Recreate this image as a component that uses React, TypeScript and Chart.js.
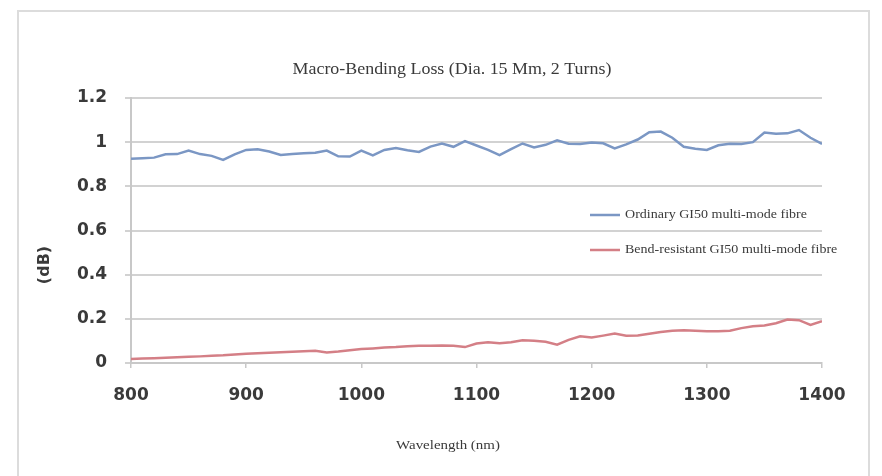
import React, { useEffect, useRef } from "react";
import { Chart, registerables } from "chart.js";

Chart.register(...registerables);

const chartTitle = "Macro-Bending Loss (Dia. 15 Mm, 2 Turns)";
const xAxisTitle = "Wavelength (nm)";
const yAxisTitle = "(dB)";
const seriesNames = [
  "Ordinary GI50 multi-mode fibre",
  "Bend-resistant GI50 multi-mode fibre",
];

const wavelengths = [
  800, 810, 820, 830, 840, 850, 860, 870, 880, 890,
  900, 910, 920, 930, 940, 950, 960, 970, 980, 990,
  1000, 1010, 1020, 1030, 1040, 1050, 1060, 1070, 1080, 1090,
  1100, 1110, 1120, 1130, 1140, 1150, 1160, 1170, 1180, 1190,
  1200, 1210, 1220, 1230, 1240, 1250, 1260, 1270, 1280, 1290,
  1300, 1310, 1320, 1330, 1340, 1350, 1360, 1370, 1380, 1390,
  1400,
];

const ordinaryLoss = [
  0.925, 0.927, 0.930, 0.945, 0.946, 0.962, 0.946, 0.938, 0.920, 0.945,
  0.965, 0.968, 0.958, 0.942, 0.946, 0.950, 0.952, 0.962, 0.936, 0.935,
  0.962, 0.940, 0.965, 0.974, 0.963, 0.956, 0.980, 0.994, 0.979, 1.005,
  0.985, 0.965, 0.941, 0.968, 0.994, 0.976, 0.988, 1.008, 0.993, 0.992,
  0.998, 0.995, 0.972, 0.990, 1.012, 1.045, 1.048, 1.020, 0.979, 0.970,
  0.965, 0.986, 0.993, 0.992, 1.000, 1.044, 1.038, 1.040, 1.055, 1.020,
  0.992,
];

const bendResistantLoss = [
  0.018, 0.020, 0.022, 0.024, 0.026, 0.028, 0.030, 0.033, 0.035, 0.039,
  0.042, 0.044, 0.046, 0.049, 0.051, 0.053, 0.055, 0.048, 0.052, 0.058,
  0.063, 0.066, 0.070, 0.072, 0.076, 0.078, 0.078, 0.079, 0.078, 0.072,
  0.088, 0.094, 0.090, 0.094, 0.103, 0.101, 0.096, 0.083, 0.105, 0.121,
  0.116, 0.124, 0.133, 0.123, 0.125, 0.132, 0.140, 0.146, 0.148, 0.146,
  0.144, 0.144, 0.146, 0.158, 0.166, 0.170, 0.180, 0.197, 0.194, 0.172,
  0.189,
];

const xMin = 800;
const xMax = 1400;
const xStep = 100;
const yMin = 0;
const yMax = 1.2;
const yStep = 0.2;

const BLUE = "#7b97c4";
const RED = "#d47f86";
const TEXT = "#3a3a3a";
const SERIF = "'Liberation Serif', 'DejaVu Serif', serif";
const SANS = "'DejaVu Sans', sans-serif";

function stretchedText(ctx: any, text: string, x: number, y: number, sx: number, align: string) {
  ctx.save();
  ctx.translate(x, y);
  ctx.scale(sx, 1);
  ctx.textAlign = align;
  ctx.fillText(text, 0, 0);
  ctx.restore();
}

const decorPlugin = {
  id: "decor",
  beforeDraw(chart: any) {
    const { ctx, width, height } = chart;
    ctx.save();
    ctx.fillStyle = "#ffffff";
    ctx.fillRect(0, 0, width, height);
    ctx.strokeStyle = "#dcdcdc";
    ctx.lineWidth = 2;
    ctx.strokeRect(18, 11, 851, height + 20);
    ctx.restore();
  },
  afterDraw(chart: any) {
    const { ctx, chartArea } = chart;
    ctx.save();
    ctx.fillStyle = TEXT;
    ctx.textBaseline = "middle";
    // title
    ctx.font = `16px ${SERIF}`;
    stretchedText(ctx, chartTitle, 452, chartArea.top - 28, 1.12, "center");
    // x axis title
    ctx.font = `13px ${SERIF}`;
    stretchedText(ctx, xAxisTitle, 448, chartArea.bottom + 83, 1.15, "center");
    // y axis title
    ctx.save();
    ctx.translate(45, 265);
    ctx.rotate(-Math.PI / 2);
    ctx.textAlign = "center";
    ctx.font = `bold 16px ${SANS}`;
    ctx.fillText(yAxisTitle, 0, 0);
    ctx.restore();
    // legend (Excel-style: left aligned entries)
    const sx = 1.22;
    ctx.font = `11.5px ${SERIF}`;
    const lineStart = 590;
    const rows = [215, 250];
    chart.data.datasets.forEach((ds: any, i: number) => {
      const label = ds.label as string;
      const y = rows[i];
      ctx.strokeStyle = ds.borderColor;
      ctx.lineWidth = 2.5;
      ctx.beginPath();
      ctx.moveTo(lineStart, y);
      ctx.lineTo(lineStart + 30, y);
      ctx.stroke();
      ctx.fillStyle = TEXT;
      stretchedText(ctx, label, lineStart + 35, y, sx, "left");
    });
    ctx.restore();
  },
};

export default function App() {
  const canvasRef = useRef<HTMLCanvasElement | null>(null);

  useEffect(() => {
    if (!canvasRef.current) return;
    const chart = new Chart(canvasRef.current, {
      type: "line",
      data: {
        datasets: [
          {
            label: seriesNames[0],
            data: wavelengths.map((x, i) => ({ x, y: ordinaryLoss[i] })),
            borderColor: BLUE,
            borderWidth: 2.5,
            pointRadius: 0,
            tension: 0,
            fill: false,
          },
          {
            label: seriesNames[1],
            data: wavelengths.map((x, i) => ({ x, y: bendResistantLoss[i] })),
            borderColor: RED,
            borderWidth: 2.5,
            pointRadius: 0,
            tension: 0,
            fill: false,
          },
        ],
      },
      options: {
        animation: false,
        responsive: true,
        maintainAspectRatio: false,
        layout: { padding: { left: 0, top: 98, right: 60, bottom: 0 } },
        plugins: {
          legend: { display: false },
          title: { display: false },
          tooltip: { enabled: false },
        },
        scales: {
          x: {
            type: "linear",
            min: xMin,
            max: xMax,
            afterFit: (s: any) => {
              s.height = 113;
            },
            ticks: {
              stepSize: xStep,
              color: TEXT,
              padding: 17,
              font: { family: SANS, size: 17, weight: "bold" },
              maxRotation: 0,
              callback: (v: any) => String(v),
            },
            grid: {
              drawOnChartArea: false,
              drawTicks: true,
              tickLength: 5,
              color: "#c8c8c8",
              lineWidth: 1.5,
            },
            border: { color: "#c8c8c8", width: 2 },
          },
          y: {
            min: yMin,
            max: yMax,
            afterFit: (s: any) => {
              s.width = 131;
            },
            ticks: {
              stepSize: yStep,
              color: TEXT,
              padding: 18,
              font: { family: SANS, size: 17, weight: "bold" },
              callback: (v: any) => String(Math.round(Number(v) * 10) / 10),
            },
            grid: {
              color: "#d2d2d2",
              lineWidth: 2,
              tickLength: 6,
            },
            border: { color: "#c8c8c8", width: 2 },
          },
        },
      },
      plugins: [decorPlugin],
    });
    return () => chart.destroy();
  }, []);

  return (
    <div
      style={{
        position: "fixed",
        left: 0,
        top: 0,
        width: 882,
        height: 476,
        background: "#ffffff",
      }}
    >
      <canvas ref={canvasRef} />
    </div>
  );
}
